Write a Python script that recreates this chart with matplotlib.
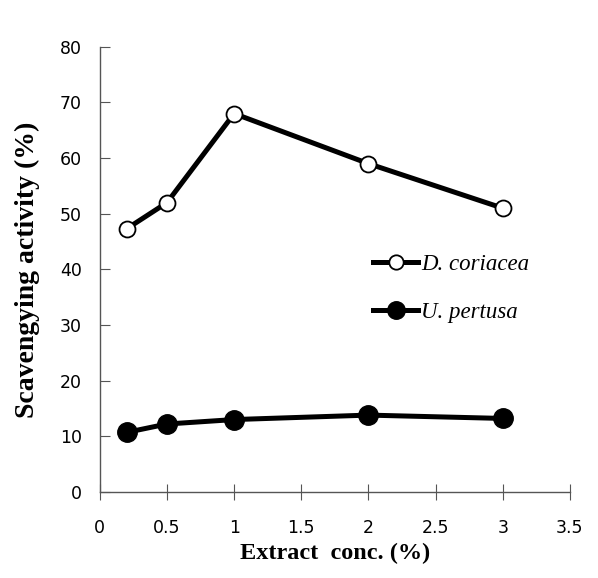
import matplotlib
matplotlib.use("Agg")
import matplotlib.pyplot as plt

# Data
conc = [0.2, 0.5, 1, 2, 3]
d_coriacea = [47.3, 52.0, 68.0, 59.0, 51.0]
u_pertusa = [10.7, 12.2, 13.0, 13.8, 13.2]

x_ticks = [0, 0.5, 1, 1.5, 2, 2.5, 3, 3.5]
x_tick_labels = ["0", "0.5", "1", "1.5", "2", "2.5", "3", "3.5"]
y_ticks = [0, 10, 20, 30, 40, 50, 60, 70, 80]

fig = plt.figure(figsize=(5.98, 5.78), dpi=100)
ax = fig.add_axes([0.167, 0.149, 0.786, 0.770])

ax.plot(conc, d_coriacea, color="black", linewidth=3.6, marker="o",
        markersize=11.5, markerfacecolor="white", markeredgecolor="black",
        markeredgewidth=1.3, label="D. coriacea")
ax.plot(conc, u_pertusa, color="black", linewidth=3.6, marker="o",
        markersize=14, markerfacecolor="black", markeredgecolor="black",
        label="U. pertusa")

ax.set_xlim(0, 3.5)
ax.set_ylim(0, 80)
ax.set_xticks(x_ticks)
ax.set_xticklabels(x_tick_labels)
ax.set_yticks(y_ticks)

for side in ["top", "right"]:
    ax.spines[side].set_visible(False)
for side in ["left", "bottom"]:
    ax.spines[side].set_color("#555555")
    ax.spines[side].set_linewidth(1.0)

ax.tick_params(axis="x", direction="inout", length=11, color="#555555",
               labelsize=12.5, pad=14)
ax.tick_params(axis="y", direction="in", length=7, color="#555555",
               labelsize=12.5, pad=13)

ax.set_xlabel("Extract  conc. (%)", fontfamily="Liberation Serif",
              fontweight="bold", fontsize=17.5, labelpad=4)
ax.set_ylabel("Scavengying activity (%)", fontfamily="Liberation Serif",
              fontweight="bold", fontsize=20, labelpad=14)

leg = ax.legend(loc="center left", bbox_to_anchor=(0.556, 0.457), frameon=False,
                prop={"family": "Liberation Serif", "style": "italic", "size": 16.5},
                handlelength=2.0, handletextpad=0.1, labelspacing=1.15,
                borderpad=0, markerscale=0.9)

fig.savefig("out.png", dpi=100)
